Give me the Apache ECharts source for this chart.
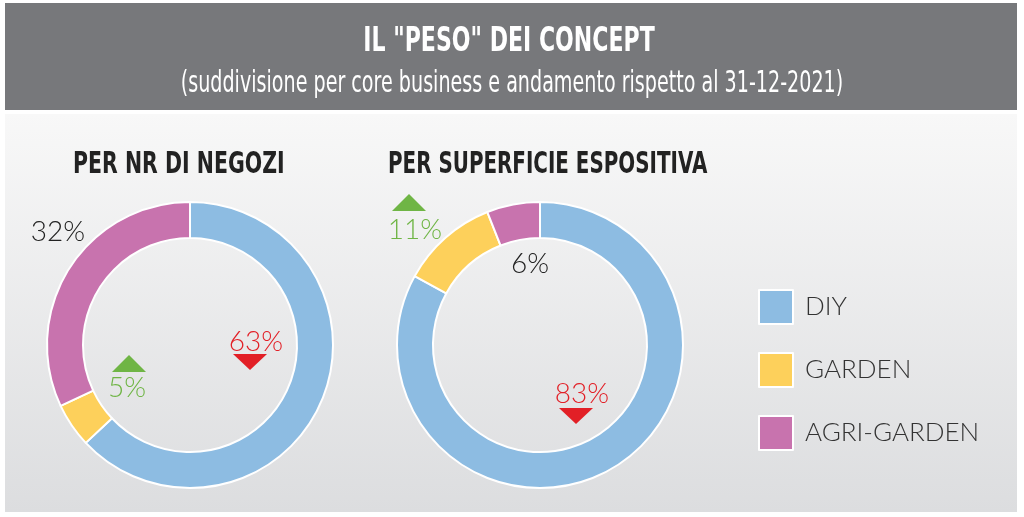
<!DOCTYPE html>
<html><head><meta charset="utf-8">
<script src="https://cdn.jsdelivr.net/npm/echarts@6/dist/echarts.min.js"></script>
<style>html,body{margin:0;padding:0;background:#fff}#c{width:1024px;height:517px}</style>
</head><body><div id="c"></div>
<script>
const categories = ['DIY', 'GARDEN', 'AGRI-GARDEN'];
const negoziValues = [63, 5, 32];
const superficieValues = [83, 11, 6];
const negoziTrend = ['down', 'up', 'none'];
const superficieTrend = ['down', 'up', 'none'];
const chartTitle = 'IL "PESO" DEI CONCEPT';
const chartSubtitle = '(suddivisione per core business e andamento rispetto al 31-12-2021)';
const panelTitles = ['PER NR DI NEGOZI', 'PER SUPERFICIE ESPOSITIVA'];

const colors = ['#8dbce2', '#fdd05b', '#c873ae'];
const trendColor = {up: '#6fb545', down: '#e21f26', none: '#222'};
const condensed = '"DejaVu Sans", sans-serif';
const light = 'Lato, "Noto Sans", sans-serif';

// annotation placement: label centre and triangle anchor (edge nearest to label)
const labelPlaces = [
  [{x: 256, y: 342, tx: 250, ty: 354}, {x: 127, y: 388, tx: 129, ty: 372}, {x: 58, y: 232}],
  [{x: 582, y: 394, tx: 576, ty: 408}, {x: 415, y: 230, tx: 409, ty: 211}, {x: 530, y: 264}]
];

function makeAnnotations(values, trends, places) {
  const g = [];
  values.forEach((v, i) => {
    const p = places[i];
    const col = trendColor[trends[i]];
    g.push({type: 'text', x: p.x, y: p.y, z: 10,
      style: {text: v + '%', fill: col, font: '300 28px ' + light, textAlign: 'center', textVerticalAlign: 'middle'}});
    if (trends[i] === 'up') {
      g.push({type: 'polygon', z: 10, shape: {points: [[p.tx - 17, p.ty], [p.tx + 17, p.ty], [p.tx, p.ty - 17]]}, style: {fill: col}});
    } else if (trends[i] === 'down') {
      g.push({type: 'polygon', z: 10, shape: {points: [[p.tx - 17, p.ty], [p.tx + 17, p.ty], [p.tx, p.ty + 16]]}, style: {fill: col}});
    }
  });
  return g;
}

const chart = echarts.init(document.getElementById('c'));
function pieSeries(name, values, center) {
  return {
    type: 'pie', name: name, center: center, radius: [107, 143], startAngle: 90, clockwise: true,
    silent: true, label: {show: false}, labelLine: {show: false},
    itemStyle: {borderColor: '#fff', borderWidth: 2},
    data: categories.map((c, i) => ({name: c, value: values[i], itemStyle: {color: colors[i]}}))
  };
}

const graphics = [
  {type: 'rect', z: -10, shape: {x: 5, y: 3, width: 1012, height: 107}, style: {fill: '#77787b'}},
  {type: 'rect', z: -10, shape: {x: 5, y: 114, width: 1012, height: 398},
    style: {fill: new echarts.graphic.LinearGradient(0, 0, 0, 1, [{offset: 0, color: '#f8f8f8'}, {offset: 1, color: '#dcdddf'}])}},
  {type: 'text', x: 509, y: 42, scaleX: 0.668,
    style: {text: chartTitle, fill: '#fff', font: 'bold 33px ' + condensed, textAlign: 'center', textVerticalAlign: 'middle'}},
  {type: 'text', x: 512, y: 84, scaleX: 0.617,
    style: {text: chartSubtitle, fill: '#fff', font: '31px ' + condensed, textAlign: 'center', textVerticalAlign: 'middle'}},
  {type: 'text', x: 73, y: 165, scaleX: 0.683,
    style: {text: panelTitles[0], fill: '#222', font: 'bold 30px ' + condensed, textAlign: 'left', textVerticalAlign: 'middle'}},
  {type: 'text', x: 388, y: 165, scaleX: 0.663,
    style: {text: panelTitles[1], fill: '#222', font: 'bold 30px ' + condensed, textAlign: 'left', textVerticalAlign: 'middle'}}
].concat(makeAnnotations(negoziValues, negoziTrend, labelPlaces[0]))
 .concat(makeAnnotations(superficieValues, superficieTrend, labelPlaces[1]));

chart.setOption({
  animation: false,
  backgroundColor: '#fff',
  legend: {
    orient: 'vertical', left: 753, top: 284, itemWidth: 34, itemHeight: 34, itemGap: 27,
    icon: 'rect', selectedMode: false, data: categories,
    itemStyle: {borderColor: '#fff', borderWidth: 2},
    textStyle: {fontFamily: light, fontWeight: 300, fontSize: 26, color: '#333', padding: [0, 0, 0, 7]}
  },
  graphic: graphics,
  series: [
    pieSeries(panelTitles[0], negoziValues, [190, 345]),
    pieSeries(panelTitles[1], superficieValues, [540, 345])
  ]
});
</script></body></html>
